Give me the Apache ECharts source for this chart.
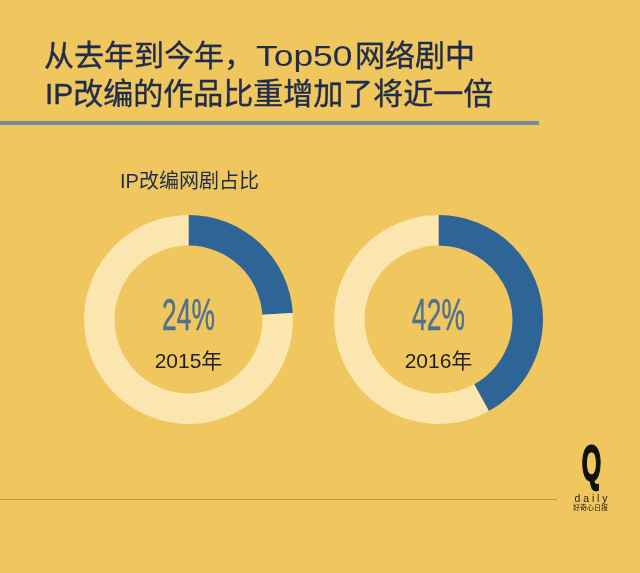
<!DOCTYPE html>
<html><head><meta charset="utf-8">
<style>html,body{margin:0;padding:0;background:#F0C75E}#c{width:640px;height:573px}</style>
<script src="https://cdn.jsdelivr.net/npm/echarts@6/dist/echarts.min.js"></script>
</head><body><div id="c"></div>
<script>
const years = ['2015年','2016年'];
const ipShare = [24,42];
const otherShare = [76,58];
const titleParts = ['从去年到今年，','Top50','网络剧中'];
const titleLine2 = 'IP改编的作品比重增加了将近一倍';
const subTitle = 'IP改编网剧占比';
const brandQ = 'Q';
const brand = 'd a i l y';
const brandCn = '好奇心日报';
const cjk = '"Liberation Sans","Noto Sans CJK SC",sans-serif';
const navy = '#1F2C4C';
const centers = [188.5,438.5];
const chart = echarts.init(document.getElementById('c'));
const series = ipShare.map((v,i)=>({
  type:'pie',radius:[74,104.5],center:[centers[i],319.5],startAngle:90,clockwise:true,
  silent:true,label:{show:false},labelLine:{show:false},
  data:[{name:'IP改编',value:v,itemStyle:{color:'#2F6496'}},{name:'其他',value:otherShare[i],itemStyle:{color:'#FAE6AE'}}]
}));
// x,y anchor the text; sx squeezes or stretches it horizontally
const txt=(text,x,y,size,color,o)=>{o=o||{};return {type:'text',x,y,scaleX:o.sx||1,scaleY:o.sy||1,style:{text,fontSize:size,fill:color,fontFamily:cjk,fontWeight:o.w||'normal',align:o.align||'left',verticalAlign:'middle',stroke:o.bold?color:null,lineWidth:o.bold||0}};};
const graphic=[
  txt(titleParts[0],44,58,30,navy,{bold:0.4}),
  txt(titleParts[1],256,58,30,navy,{sx:1.18}),
  txt(titleParts[2],355,58,30,navy,{bold:0.4}),
  txt(titleLine2,45,96,30,navy,{bold:0.4}),
  {type:'rect',x:0,y:121,shape:{width:539,height:4},style:{fill:'#6F8D9F'}},
  txt(subTitle,120,182,20,navy),
  {type:'rect',x:0,y:499,shape:{width:557,height:1},style:{fill:'#B09A50'}},
  txt(brandQ,591.5,467,50,'#111',{align:'center',sx:0.5,w:'bold',bold:2}),
  txt(brand,591,499,11,'#222',{align:'center',sx:0.95}),
  txt(brandCn,590.5,508,7,'#222',{align:'center'})
];
ipShare.forEach((v,i)=>{
  graphic.push(txt(v+'%',centers[i],318,44,'#50708F',{align:'center',sx:0.6,bold:0.5}));
  graphic.push(txt(years[i],centers[i],362,21,'#222',{align:'center'}));
});
chart.setOption({backgroundColor:'#F0C75E',animation:false,series,graphic});
</script></body></html>
